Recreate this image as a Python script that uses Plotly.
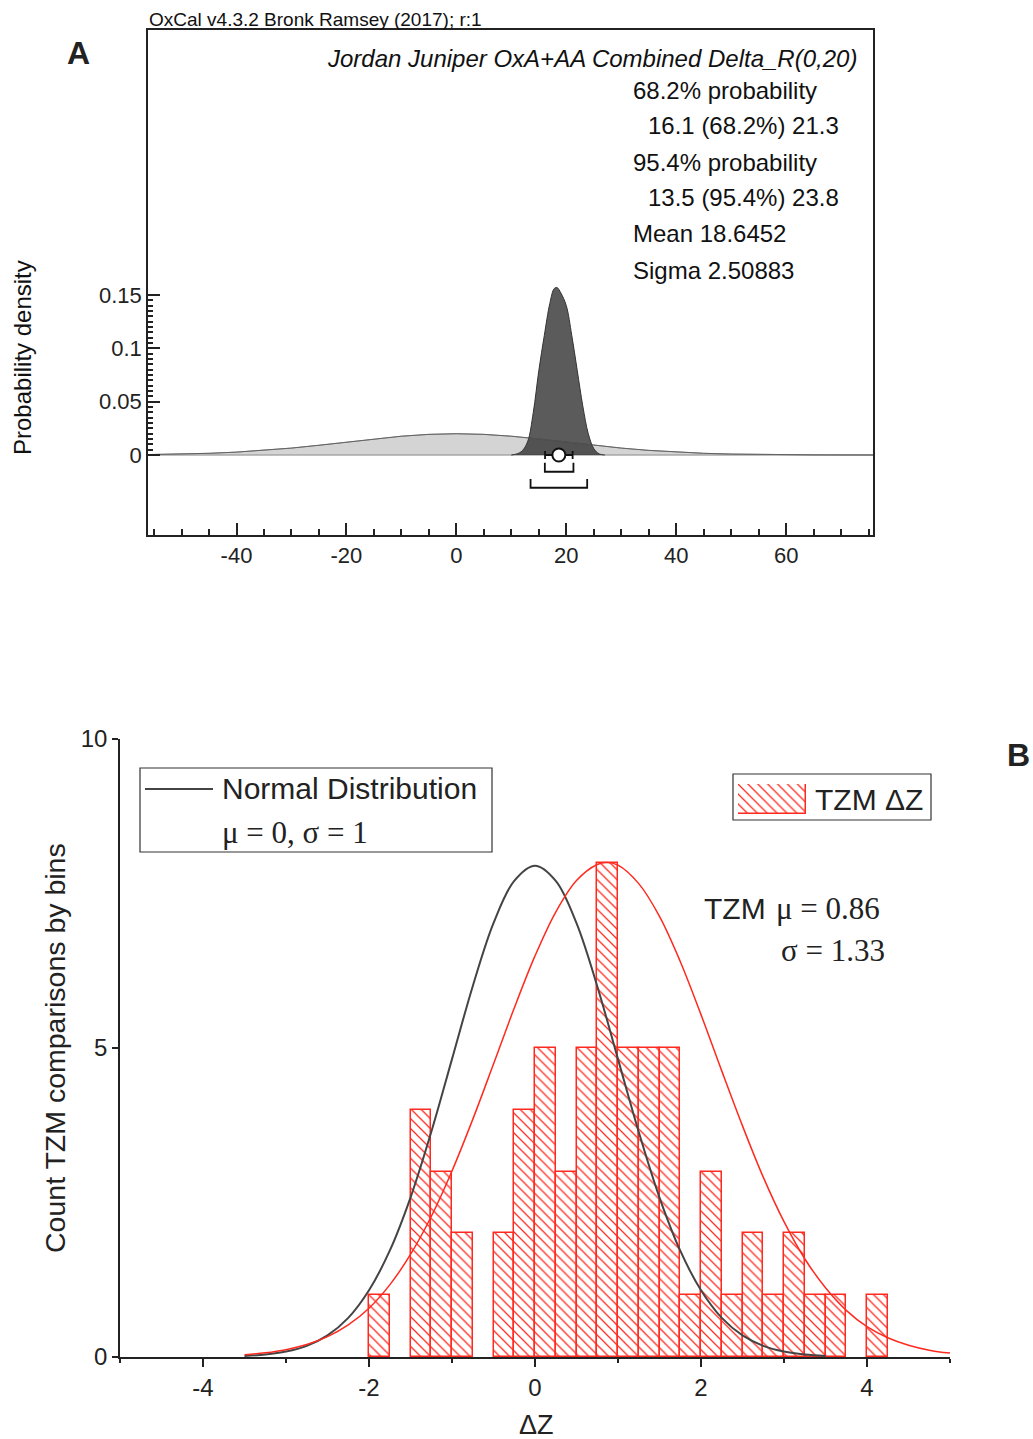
import plotly.graph_objects as go

W, H = 1033, 1439

# ---------------- Panel A data ----------------
prior_x = [-56, -50, -45, -40, -35, -30, -25, -20, -15, -10, -5, 0, 5, 10, 15, 20, 25, 30, 35, 40, 45, 50, 55, 60, 65, 70, 76]
prior_y = [0.0004, 0.00088, 0.00159, 0.0027, 0.00432, 0.00648, 0.00913, 0.0121, 0.01506, 0.01761, 0.01933, 0.01995,
           0.01933, 0.01761, 0.01506, 0.0121, 0.00913, 0.00648, 0.00432, 0.0027, 0.00159, 0.00088, 0.00045, 0.00022,
           0.0001, 0.00004, 0.0]
post_x = [10, 11, 12, 13, 14, 15, 16, 17, 17.8, 18.3, 19, 20, 21, 22, 23, 24, 25, 26, 27]
post_y = [0.0, 0.001, 0.004, 0.013, 0.040, 0.079, 0.112, 0.142, 0.156, 0.157, 0.152, 0.140, 0.112, 0.079, 0.046,
          0.020, 0.006, 0.001, 0.0]
range68 = [16.1, 21.3]
range95 = [13.5, 23.8]
mean_a = 18.6452
sigma_a = 2.50883
a_xticks = [-40, -20, 0, 20, 40, 60]
a_xtick_labels = ["-40", "-20", "0", "20", "40", "60"]
a_yticks = [0, 0.05, 0.1, 0.15]
a_ytick_labels = ["0", "0.05", "0.1", "0.15"]
a_minor_y = [round(i * 0.005, 3) for i in range(31)]
header = "OxCal v4.3.2 Bronk Ramsey (2017); r:1"
a_title = "Jordan Juniper OxA+AA Combined Delta_R(0,20)"
stats_lines = ["68.2% probability", "16.1 (68.2%) 21.3", "95.4% probability", "13.5 (95.4%) 23.8",
               "Mean 18.6452", "Sigma 2.50883"]
stats_indent = [False, True, False, True, False, False]

# ---------------- Panel B data ----------------
bin_left = [-2.0, -1.75, -1.5, -1.25, -1.0, -0.75, -0.5, -0.25, 0.0, 0.25, 0.5, 0.75, 1.0, 1.25, 1.5, 1.75,
            2.0, 2.25, 2.5, 2.75, 3.0, 3.25, 3.5, 3.75, 4.0]
counts = [1, 0, 4, 3, 2, 0, 2, 4, 5, 3, 5, 8, 5, 5, 5, 1, 3, 1, 2, 1, 2, 1, 1, 0, 1]
bin_width = 0.25
norm_x = [-3.5, -3.25, -3, -2.75, -2.5, -2.25, -2, -1.75, -1.5, -1.25, -1, -0.75, -0.5, -0.25, 0,
          0.25, 0.5, 0.75, 1, 1.25, 1.5, 1.75, 2, 2.25, 2.5, 2.75, 3, 3.25, 3.5]
norm_y = [0.017, 0.040, 0.088, 0.181, 0.35, 0.633, 1.08, 1.72, 2.58, 3.64, 4.82, 6.00, 7.02, 7.705, 7.95,
          7.705, 7.02, 6.00, 4.82, 3.64, 2.58, 1.72, 1.08, 0.633, 0.35, 0.181, 0.088, 0.040, 0.017]
tzm_x = [-3.5, -3.25, -3, -2.75, -2.5, -2.25, -2, -1.75, -1.5, -1.25, -1, -0.75, -0.5, -0.25, 0, 0.25, 0.5,
         0.75, 0.86, 1, 1.25, 1.5, 1.75, 2, 2.25, 2.5, 2.75, 3, 3.25, 3.5, 3.75, 4, 4.25, 4.5, 4.75, 5]
tzm_y = [0.037, 0.068, 0.119, 0.201, 0.329, 0.52, 0.79, 1.167, 1.66, 2.273, 3.01, 3.845, 4.74, 5.647, 6.49, 7.20,
         7.71, 7.97, 8.0, 7.96, 7.66, 7.13, 6.40, 5.54, 4.63, 3.74, 2.91, 2.19, 1.59, 1.12, 0.755, 0.49, 0.311,
         0.19, 0.111, 0.063]
b_xticks = [-4, -2, 0, 2, 4]
b_xtick_labels = ["-4", "-2", "0", "2", "4"]
b_yticks = [0, 5, 10]

RED = "#ff2a1f"
SANS = "Liberation Sans"
SERIF = "Liberation Serif"


def px(x):
    return x / W


def py(y):
    return 1 - y / H


fig = go.Figure()

# ---- Panel A traces ----
fig.add_trace(go.Scatter(x=prior_x, y=prior_y, mode="lines", fill="tozeroy",
                         fillcolor="rgba(160,160,160,0.45)", line=dict(color="#777", width=1),
                         xaxis="x", yaxis="y", showlegend=False, hoverinfo="skip"))
fig.add_trace(go.Scatter(x=post_x, y=post_y, mode="lines", fill="tozeroy", line_shape="spline",
                         fillcolor="rgba(45,45,45,0.78)", line=dict(color="#333", width=1),
                         xaxis="x", yaxis="y", showlegend=False, hoverinfo="skip"))
fig.add_trace(go.Scatter(x=prior_x, y=prior_y, mode="lines", line=dict(color="rgba(90,90,90,0.7)", width=1),
                         xaxis="x", yaxis="y", showlegend=False, hoverinfo="skip"))
# brackets
for rng, top, bot in [(range68, -0.0072, -0.0157), (range95, -0.0225, -0.0307)]:
    fig.add_trace(go.Scatter(x=[rng[0], rng[0], rng[1], rng[1]], y=[top, bot, bot, top], mode="lines",
                             line=dict(color="#111", width=1.8), xaxis="x", yaxis="y",
                             showlegend=False, hoverinfo="skip"))
fig.add_trace(go.Scatter(x=[mean_a], y=[0], mode="markers",
                         marker=dict(symbol="circle", size=13, color="white", line=dict(color="#111", width=2)),
                         error_x=dict(type="constant", value=sigma_a, color="#111", thickness=1.8, width=4),
                         xaxis="x", yaxis="y", showlegend=False, hoverinfo="skip"))

# ---- Panel B traces ----
bar_x = [b + bin_width / 2 for b, c in zip(bin_left, counts) if c > 0]
bar_y = [c for c in counts if c > 0]
hatch = dict(shape="\\", fgcolor=RED, bgcolor="white", size=7, solidity=0.18, fillmode="replace")
fig.add_trace(go.Bar(x=bar_x, y=bar_y, width=bin_width, xaxis="x2", yaxis="y2",
                     marker=dict(color="white", line=dict(color=RED, width=1.5), pattern=hatch),
                     showlegend=False, hoverinfo="skip"))
fig.add_trace(go.Scatter(x=norm_x, y=norm_y, mode="lines", line_shape="spline",
                         line=dict(color="#444", width=2), xaxis="x2", yaxis="y2",
                         showlegend=False, hoverinfo="skip"))
fig.add_trace(go.Scatter(x=tzm_x, y=tzm_y, mode="lines", line_shape="spline",
                         line=dict(color=RED, width=1.5), xaxis="x2", yaxis="y2",
                         showlegend=False, hoverinfo="skip"))
# legend swatch (hatched square) as a tiny bar in its own axes
fig.add_trace(go.Bar(x=[0.5], y=[1], width=1, xaxis="x4", yaxis="y4",
                     marker=dict(color="white", line=dict(color=RED, width=1.5), pattern=hatch),
                     showlegend=False, hoverinfo="skip"))

axis_line = dict(showline=True, linecolor="#222", linewidth=1.5, showgrid=False, zeroline=False,
                 automargin=False)
tickfont_a = dict(family=SANS, size=22, color="#222")
tickfont_b = dict(family=SANS, size=24, color="#222")

fig.update_layout(
    width=W, height=H, margin=dict(l=0, r=0, t=0, b=0, autoexpand=False),
    paper_bgcolor="white", plot_bgcolor="rgba(0,0,0,0)",
    bargap=0,
    xaxis=dict(domain=[px(148), px(873)], range=[-56.1, 75.8], anchor="y", mirror=True,
               tickmode="array", tickvals=a_xticks, ticktext=a_xtick_labels, ticks="inside", ticklen=12,
               tickwidth=1.5, tickcolor="#222",
               minor=dict(tickmode="linear", tick0=0, dtick=5, ticks="inside", ticklen=6, tickcolor="#222"),
               tickfont=tickfont_a, **axis_line),
    yaxis=dict(domain=[py(535), py(30)], range=[-0.075, 0.3984], anchor="x", mirror=True,
               tickmode="array", tickvals=a_yticks, ticktext=a_ytick_labels, ticks="inside", ticklen=12,
               tickwidth=1.5, tickcolor="#222",
               minor=dict(tickmode="array", tickvals=a_minor_y, ticks="inside", ticklen=5, tickcolor="#222"),
               tickfont=tickfont_a, **axis_line),
    xaxis2=dict(domain=[px(120), px(950)], range=[-5, 5], anchor="y2",
                tickmode="array", tickvals=b_xticks, ticktext=b_xtick_labels, ticks="outside", ticklen=8,
                tickwidth=1.5, tickcolor="#222",
                minor=dict(tickmode="linear", tick0=-5, dtick=1, ticks="outside", ticklen=4, tickcolor="#222"),
                tickfont=tickfont_b, **axis_line),
    yaxis2=dict(domain=[py(1357), py(739)], range=[0, 10], anchor="x2",
                tickmode="array", tickvals=b_yticks, ticks="outside", ticklen=6, tickwidth=1.5, tickcolor="#222",
                tickfont=tickfont_b, **axis_line),
    xaxis3=dict(overlaying="x2", anchor="y2", side="top", range=[-5, 5], tickmode="array",
                tickvals=[-4, -3, -2, -1, 0, 1, 2, 3, 4], ticks="inside", ticklen=7, tickwidth=1.5,
                tickcolor="#222", showticklabels=False, **axis_line),
    yaxis3=dict(overlaying="y2", anchor="x2", side="right", range=[0, 10], tickmode="array",
                tickvals=[2, 4, 6, 8], ticks="inside", ticklen=7, tickwidth=1.5, tickcolor="#222",
                showticklabels=False, **axis_line),
    xaxis4=dict(domain=[px(738), px(806)], range=[0, 1], anchor="y4", visible=False, fixedrange=True,
                automargin=False),
    yaxis4=dict(domain=[py(814), py(784)], range=[0, 1], anchor="x4", visible=False, fixedrange=True,
                automargin=False),
)

shapes = [
    dict(type="line", xref="x", yref="y", x0=-56.1, x1=75.8, y0=0, y1=0, line=dict(color="#aaa", width=1.5),
         layer="below"),
    # legend boxes
    dict(type="rect", xref="paper", yref="paper", x0=px(140), x1=px(492), y0=py(852), y1=py(768),
         line=dict(color="#333", width=1.2), fillcolor="white", layer="below"),
    dict(type="line", xref="paper", yref="paper", x0=px(145), x1=px(213), y0=py(789), y1=py(789),
         line=dict(color="#444", width=2)),
    dict(type="rect", xref="paper", yref="paper", x0=px(733), x1=px(931), y0=py(820), y1=py(774),
         line=dict(color="#333", width=1.2), fillcolor="white", layer="below"),
]

annotations = [
    dict(text=header, x=px(147), y=py(20), xanchor="left", yanchor="middle",
         font=dict(family=SANS, size=19, color="#111")),
    dict(text="<b>A</b>", x=px(78), y=py(53), xanchor="center", yanchor="middle",
         font=dict(family=SANS, size=32, color="#222")),
    dict(text="<i>" + a_title + "</i>", x=px(859), y=py(59), xanchor="right", yanchor="middle",
         font=dict(family=SANS, size=24, color="#111")),
    dict(text="Probability density", x=px(22), y=py(358), textangle=-90, xanchor="center", yanchor="middle",
         font=dict(family=SANS, size=24, color="#111")),
    dict(text="<b>B</b>", x=px(1018), y=py(755), xanchor="center", yanchor="middle",
         font=dict(family=SANS, size=32, color="#222")),
    dict(text="Count TZM comparisons by bins", x=px(55), y=py(1048), textangle=-90, xanchor="center",
         yanchor="middle", font=dict(family=SANS, size=28.5, color="#222")),
    dict(text="ΔZ", x=px(536), y=py(1425), xanchor="center", yanchor="middle",
         font=dict(family=SANS, size=27, color="#222")),
    dict(text="Normal Distribution", x=px(220), y=py(789), xanchor="left", yanchor="middle",
         font=dict(family=SANS, size=30, color="#222")),
    dict(text="μ = 0, σ = 1", x=px(220), y=py(832), xanchor="left", yanchor="middle",
         font=dict(family=SERIF, size=31, color="#222")),
    dict(text="TZM ΔZ", x=px(813), y=py(799), xanchor="left", yanchor="middle",
         font=dict(family=SANS, size=30, color="#222")),
    dict(text="TZM", x=px(702), y=py(909), xanchor="left", yanchor="middle",
         font=dict(family=SANS, size=30, color="#222")),
    dict(text="μ = 0.86", x=px(774), y=py(909), xanchor="left", yanchor="middle",
         font=dict(family=SERIF, size=31, color="#222")),
    dict(text="σ = 1.33", x=px(779), y=py(950), xanchor="left", yanchor="middle",
         font=dict(family=SERIF, size=31, color="#222")),
]
for i, (line, ind) in enumerate(zip(stats_lines, stats_indent)):
    annotations.append(dict(text=line, x=px(646 if ind else 631), y=py(90 + 36 * i), xanchor="left",
                            yanchor="middle", font=dict(family=SANS, size=24, color="#111")))
for a in annotations:
    a.setdefault("xref", "paper")
    a.setdefault("yref", "paper")
    a["showarrow"] = False

fig.update_layout(shapes=shapes, annotations=annotations)
fig.write_html("out.html")
